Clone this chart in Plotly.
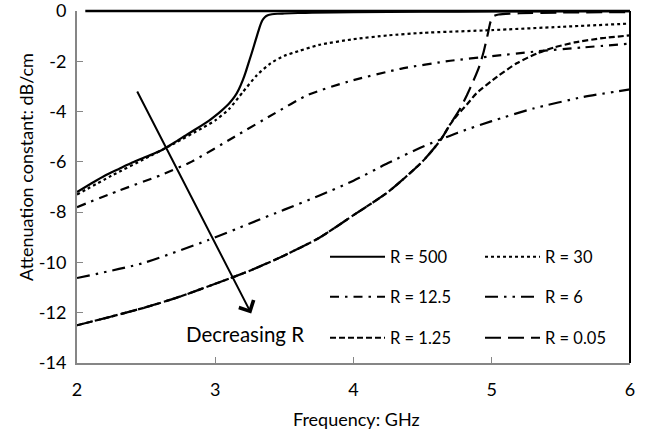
import plotly.graph_objects as go

# ---- data ----
f_500 = [2.0, 2.1, 2.2, 2.3, 2.4, 2.5, 2.6, 2.7, 2.8, 2.9, 2.95, 3.0, 3.05, 3.1, 3.14, 3.17, 3.2, 3.22, 3.24, 3.26, 3.28, 3.30, 3.32, 3.34, 3.36, 3.38, 3.41, 3.45, 3.5, 3.6, 3.7, 4.0, 4.5, 5.0, 6.0]
a_500 = [-7.20, -6.87, -6.55, -6.29, -6.03, -5.80, -5.57, -5.25, -4.90, -4.56, -4.38, -4.17, -3.94, -3.68, -3.41, -3.12, -2.74, -2.43, -2.08, -1.74, -1.38, -1.02, -0.66, -0.38, -0.24, -0.17, -0.13, -0.11, -0.10, -0.08, -0.07, -0.05, -0.03, -0.02, -0.01]

f_30 = [2.0, 2.25, 2.5, 2.7, 2.9, 3.0, 3.1, 3.2, 3.3, 3.4, 3.5, 3.6, 3.75, 4.0, 4.25, 4.5, 5.0, 5.5, 6.0]
a_30 = [-7.30, -6.55, -5.85, -5.28, -4.67, -4.35, -3.90, -3.22, -2.56, -2.08, -1.78, -1.60, -1.35, -1.12, -0.97, -0.87, -0.76, -0.63, -0.50]

f_12p5 = [2.0, 2.3, 2.61, 2.83, 3.14, 3.43, 3.67, 3.96, 4.34, 4.7, 5.0, 5.3, 5.66, 6.0]
a_12p5 = [-7.80, -7.15, -6.52, -5.99, -5.00, -4.07, -3.34, -2.81, -2.30, -1.98, -1.80, -1.62, -1.45, -1.30]

f_6 = [2.0, 2.47, 2.95, 3.25, 3.5, 3.75, 4.0, 4.25, 4.5, 4.75, 5.0, 5.3, 5.66, 6.0]
a_6 = [-10.62, -10.04, -9.11, -8.45, -7.90, -7.35, -6.75, -6.05, -5.40, -4.85, -4.38, -3.88, -3.42, -3.12]

f_1p25 = [2.0, 2.25, 2.5, 2.75, 3.0, 3.25, 3.5, 3.75, 4.0, 4.25, 4.5, 4.63, 4.7, 4.75, 4.82, 4.89, 5.04, 5.18, 5.33, 5.45, 5.6, 5.8, 6.0]
a_1p25 = [-12.50, -12.15, -11.78, -11.35, -10.85, -10.33, -9.72, -9.03, -8.12, -7.20, -5.98, -5.13, -4.50, -4.15, -3.72, -3.27, -2.61, -2.08, -1.68, -1.45, -1.25, -1.08, -0.97]

f_0p05 = [2.0, 2.25, 2.5, 2.75, 3.0, 3.25, 3.5, 3.75, 4.0, 4.25, 4.5, 4.63, 4.7, 4.77, 4.82, 4.87, 4.91, 4.94, 4.97, 4.99, 5.01, 5.05, 5.2, 5.5, 6.0]
a_0p05 = [-12.50, -12.15, -11.78, -11.35, -10.85, -10.33, -9.72, -9.03, -8.12, -7.20, -5.98, -5.13, -4.50, -3.90, -3.35, -2.74, -2.20, -1.65, -0.95, -0.45, -0.22, -0.14, -0.09, -0.06, -0.04]

names = ["R = 500", "R = 30", "R = 12.5", "R = 6", "R = 1.25", "R = 0.05"]
x_ticks = [2, 3, 4, 5, 6]
y_ticks = [0, -2, -4, -6, -8, -10, -12, -14]
y_tick_text = ["0", "-2", "-4", "-6", "-8", "-10", "-12", "-14"]

FONT = "Lato"
series = [
    (f_500, a_500, names[0], "solid", "legend"),
    (f_30, a_30, names[1], "dot", "legend"),
    (f_12p5, a_12p5, names[2], "9px,6px,2.5px,6px", "legend2"),
    (f_6, a_6, names[3], "13px,6px,2.5px,6px,2.5px,6px", "legend2"),
    (f_1p25, a_1p25, names[4], "6px,3px", "legend3"),
    (f_0p05, a_0p05, names[5], "16px,7px", "legend3"),
]

fig = go.Figure()
for fx, ay, nm, dash, lg in series:
    fig.add_trace(go.Scatter(x=fx, y=ay, name=nm, mode="lines",
                             line=dict(color="black", width=2.2, dash=dash, shape="spline", smoothing=0.6),
                             legend=lg))

leg_common = dict(orientation="h", xanchor="left", yanchor="middle",
                  font=dict(family=FONT, size=16.5, color="black"),
                  bgcolor="rgba(0,0,0,0)", entrywidth=85, entrywidthmode="pixels",
                  itemwidth=55, tracegroupgap=0)

# plot area in page pixels (page body margin removed below)
L = 77; R = 630; T = 11; B = 363
def px2paper_y(py):
    return 1 - (py - T) / (B - T)
def px2paper_x(px):
    return (px - L) / (R - L)

fig.update_layout(
    width=651, height=433,
    margin=dict(l=L, r=651 - R, t=T, b=433 - B, autoexpand=False),
    paper_bgcolor="white", plot_bgcolor="white",
    font=dict(family=FONT, size=18, color="black"),
    showlegend=True,
    legend=dict(x=px2paper_x(325), y=px2paper_y(257), **leg_common),
    legend2=dict(x=px2paper_x(325), y=px2paper_y(297), **leg_common),
    legend3=dict(x=px2paper_x(325), y=px2paper_y(338), **leg_common),
    xaxis=dict(range=[2, 6], tickvals=x_ticks, ticks="inside", ticklen=6,
               tickcolor="#868686", showline=True, linecolor="#868686", linewidth=2,
               showgrid=False, zeroline=False, automargin=False, ticklabelstandoff=9,
               ticklabeloverflow="allow",
               tickfont=dict(family=FONT, size=18, color="black")),
    yaxis=dict(range=[-14, 0], tickvals=y_ticks, ticktext=y_tick_text, ticks="inside", ticklen=6,
               tickcolor="#868686", showline=True, linecolor="#868686", linewidth=2,
               showgrid=False, zeroline=False, automargin=False, ticklabelstandoff=5,
               ticklabeloverflow="allow",
               tickfont=dict(family=FONT, size=18, color="black")),
    shapes=[
        dict(type="line", xref="paper", yref="paper", x0=0.015, x1=1, y0=1, y1=1,
             line=dict(color="black", width=2.5)),
        dict(type="line", xref="paper", yref="paper", x0=1, x1=1, y0=0, y1=1,
             line=dict(color="black", width=2)),
    ],
    annotations=[
        dict(x=3.26, y=-12.03, ax=2.43, ay=-3.14, xref="x", yref="y", axref="x", ayref="y",
             showarrow=True, arrowhead=4, arrowsize=1.6, arrowwidth=2, arrowcolor="black", text=""),
        dict(x=3.215, y=-12.85, xref="x", yref="y", text="Decreasing R", showarrow=False,
             font=dict(family=FONT, size=20.5, color="black")),
        dict(x=px2paper_x(26), y=px2paper_y(167), xref="paper", yref="paper",
             text="Attenuation constant: dB/cm", textangle=-90, showarrow=False,
             xanchor="center", yanchor="middle",
             font=dict(family=FONT, size=18, color="black")),
        dict(x=px2paper_x(356), y=px2paper_y(419), xref="paper", yref="paper",
             text="Frequency: GHz", showarrow=False, xanchor="center", yanchor="middle",
             font=dict(family=FONT, size=18, color="black")),
    ],
)

fig.write_html("out.html", config={"displayModeBar": False},
               post_script="document.body.style.margin='0';document.body.style.overflow='hidden';")
